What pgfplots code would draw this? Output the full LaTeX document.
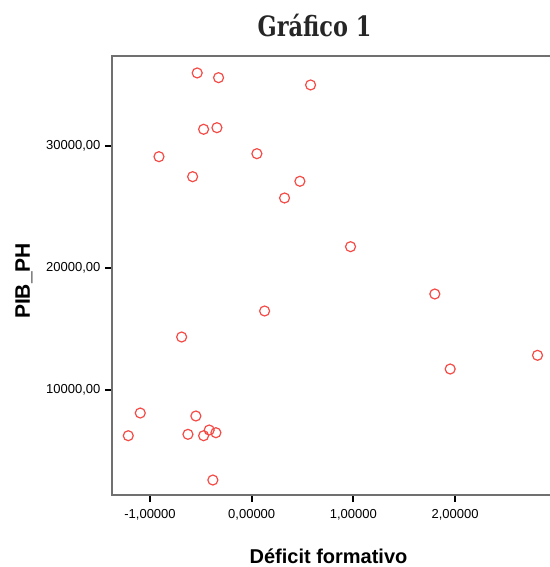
\documentclass[border=0pt]{standalone}
\usepackage{pgfplots}
\pgfplotsset{compat=1.18}
\usepackage{fontspec}
\setmainfont{Liberation Sans}
\newfontfamily\titlefont{DejaVu Serif}[FakeStretch=0.8]
\definecolor{mk}{RGB}{245,75,70}
\definecolor{frame}{RGB}{112,112,112}
\begin{document}
\begin{tikzpicture}
\begin{axis}[
  name=ax,
  scale only axis,
  width=437pt, height=439pt,
  xmin=-1.374, xmax=2.924,
  ymin=1370, ymax=37350,
  axis line style={draw=none},
  xtick={-1,0,1,2},
  ytick={10000,20000,30000},
  tick pos=left,
  tick align=outside,
  major tick length=7pt,
  x tick style={black, line width=2pt},
  y tick style={black, line width=2pt},
  /pgf/number format/assume math mode=true,
  xticklabel style={font=\fontsize{13}{13}\selectfont, yshift=-4pt, /pgf/number format/.cd, fixed, fixed zerofill, precision=5, use comma},
  yticklabel style={font=\fontsize{13}{13}\selectfont, xshift=-1pt, /pgf/number format/.cd, fixed, fixed zerofill, precision=2, use comma, 1000 sep={}},
  scaled ticks=false,
  clip=false,
]
\addplot[only marks, mark=o, mark size=5pt, mark options={draw=mk, line width=1.2pt}] coordinates {
(-0.536,35960) (-0.326,35574) (0.579,34976) (-0.473,31344) (-0.342,31475)
(-0.912,29098) (0.051,29344) (-0.581,27459) (0.474,27082) (0.323,25713)
(0.972,21721) (1.801,17844) (0.127,16450) (-0.689,14319) (2.811,12819)
(1.952,11696) (-1.096,8089) (-0.549,7845) (-1.214,6229) (-0.627,6343)
(-0.473,6229) (-0.418,6696) (-0.352,6475) (-0.382,2597)
};
\pgfplotsinvokeforeach{-1,0,1,2}{
  \draw[black, line width=2pt] (axis cs:#1,1370) -- ([yshift=-7pt]axis cs:#1,1370);
}
\end{axis}
\draw[frame, line width=1.3pt] ([xshift=2pt]ax.north east) -- (ax.north west) -- (ax.south west) -- ([xshift=2pt]ax.south east);
\node[anchor=base, font=\titlefont\bfseries\fontsize{28}{28}\selectfont, text=black!85] at (202.5pt,458pt) {Gráfico 1};
\node[anchor=base, font=\bfseries\fontsize{20}{20}\selectfont] at (216.5pt,-68pt) {Déficit formativo};
\node[anchor=base, rotate=90, font=\bfseries\fontsize{21}{21}\selectfont] at (-82pt,214pt) {PIB\_PH};
\pgfresetboundingbox
\useasboundingbox (-112pt,-72pt) rectangle (437pt,495pt);
\end{tikzpicture}
\end{document}
